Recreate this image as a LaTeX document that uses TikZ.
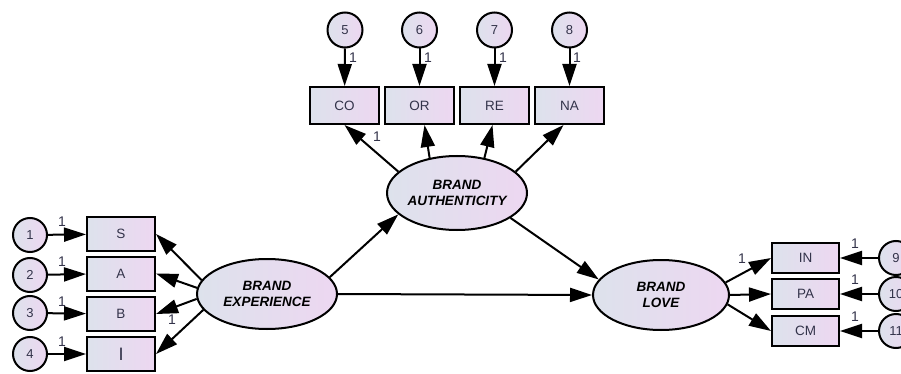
\documentclass[tikz,border=0pt]{standalone}
\usepackage{fontspec}
\setmainfont{Liberation Sans}
\usetikzlibrary{arrows.meta,shapes.geometric}
\definecolor{fillL}{HTML}{DDE2EC}
\definecolor{fillR}{HTML}{EDD7F1}
\definecolor{txt}{HTML}{33334A}
\tikzset{
  obs/.style={draw=black, line width=2pt, left color=fillL, right color=fillR, minimum width=68pt, minimum height=34pt, inner sep=0pt, text=txt, font=\fontsize{13.5}{16}\selectfont},
  err/.style={circle, draw=black, line width=2pt, left color=fillL, right color=fillR, minimum size=34pt, inner sep=0pt, text=txt, font=\fontsize{13}{15}\selectfont},
  lat/.style={ellipse, draw=black, line width=2pt, left color=fillL, right color=fillR, inner xsep=-6pt, inner ysep=0pt, text=black, align=center, font=\fontsize{13.5}{16}\selectfont\bfseries\itshape},
  arr/.style={line width=2pt, -{Triangle[length=22pt,width=14pt]}},
  one/.style={text=txt, inner sep=0pt, font=\fontsize{14}{16}\selectfont}
}
\begin{document}
\begin{tikzpicture}[x=1pt,y=-1pt]
\useasboundingbox (0,0) rectangle (901,374);
% left side
\node[err] (c1) at (30,235) {1};
\node[err] (c2) at (30,275) {2};
\node[err] (c3) at (30,313) {3};
\node[err] (c4) at (30,354) {4};
\node[obs] (S) at (121,234) {S};
\node[obs] (A) at (121,273.5) {A};
\node[obs] (B) at (121,314) {B};
\node[obs] (I) at (121,354) {\fontsize{18}{18}\selectfont I};
\node[lat, minimum width=140pt, minimum height=70pt] (be) at (267,294) {BRAND\\EXPERIENCE};
% top
\node[err, minimum size=35pt] (c5) at (345,30) {5};
\node[err, minimum size=35pt] (c6) at (419.5,30) {6};
\node[err, minimum size=35pt] (c7) at (494.5,30) {7};
\node[err, minimum size=35pt] (c8) at (569.5,30) {8};
\node[obs, minimum width=69pt, minimum height=37pt] (CO) at (344.5,105.5) {CO};
\node[obs, minimum width=69pt, minimum height=37pt] (OR) at (419.5,105.5) {OR};
\node[obs, minimum width=69pt, minimum height=37pt] (RE) at (494.5,105.5) {RE};
\node[obs, minimum width=69pt, minimum height=37pt] (NA) at (569.5,105.5) {NA};
\node[lat, minimum width=140pt, minimum height=74pt] (ba) at (457,193) {BRAND\\AUTHENTICITY};
% right
\node[lat, minimum width=136pt, minimum height=70pt] (bl) at (661,295) {BRAND\\LOVE};
\node[obs, minimum width=67pt, minimum height=30pt] (IN) at (805.5,258) {IN};
\node[obs, minimum width=67pt, minimum height=30pt] (PA) at (805.5,294) {PA};
\node[obs, minimum width=67pt, minimum height=30pt] (CM) at (805.5,331) {CM};
\node[err] (c9) at (896,258) {9};
\node[err] (c10) at (896,294) {10};
\node[err] (c11) at (896,331) {11};
% connectors
\draw[arr] (c1) -- (S);
\draw[arr] (c2) -- (A);
\draw[arr] (c3) -- (B);
\draw[arr] (c4) -- (I);
\draw[arr] (be.168) -- (S.east);
\draw[arr] (be.175) -- (A.east);
\draw[arr] (be.184) -- (B.east);
\draw[arr] (be.194) -- (I.east);
\draw[arr] (c5) -- (CO);
\draw[arr] (c6) -- (OR);
\draw[arr] (c7) -- (RE);
\draw[arr] (c8) -- (NA);
\draw[arr] (ba.160) -- (CO.south);
\draw[arr] (ba.128) -- ([xshift=5pt]OR.south);
\draw[arr] (ba.52) -- ([xshift=-2pt]RE.south);
\draw[arr] (ba.20) -- ([xshift=-6pt]NA.south);
\draw[arr] (be.15) -- (ba.200);
\draw[arr] (be.east) -- (bl.west);
\draw[arr] (ba.-25) -- (bl.166);
\draw[arr] (bl.11) -- (IN.west);
\draw[arr] (bl.east) -- (PA.west);
\draw[arr] (bl.-8) -- (CM.west);
\draw[arr] (c9) -- (IN);
\draw[arr] (c10) -- (PA);
\draw[arr] (c11) -- (CM);
% labels
\node[one] (l1) at (62,222) {1};
\node[one] (l2) at (62,262) {1};
\node[one] (l3) at (62,302) {1};
\node[one] (l4) at (62,342) {1};
\node[one] (lB) at (172,320) {1};
\node[one] (lCO) at (377,137) {1};
\node[one] (l5) at (353,58) {1};
\node[one] (l6) at (428,58) {1};
\node[one] (l7) at (503,58) {1};
\node[one] (l8) at (577,58) {1};
\node[one] (lIN) at (742,259) {1};
\node[one] (l9) at (855,244) {1};
\node[one] (l10) at (855,280) {1};
\node[one] (l11) at (855,317) {1};
\end{tikzpicture}
\end{document}
